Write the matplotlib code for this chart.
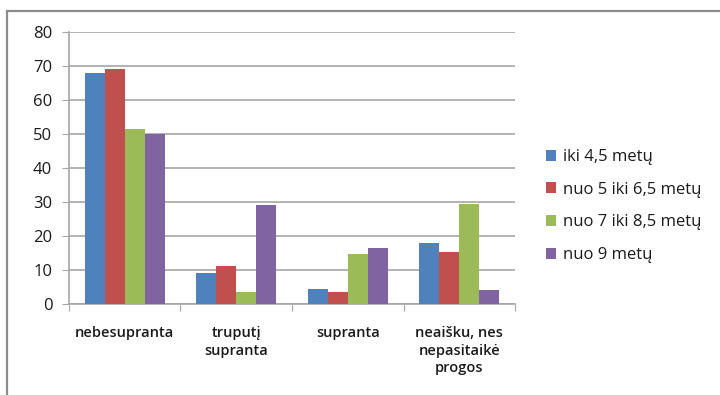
import matplotlib.pyplot as plt
import numpy as np
from matplotlib.patches import Rectangle

# Data
categories = ['nebesupranta', 'truputį\nsupranta', 'supranta', 'neaišku, nes\nnepasitaikė\nprogos']
series_names = ['iki 4,5 metų', 'nuo 5 iki 6,5 metų', 'nuo 7 iki 8,5 metų', 'nuo 9 metų']
iki_4_5 = [68, 9, 4.4, 17.8]
nuo_5_iki_6_5 = [69, 11.3, 3.5, 15.2]
nuo_7_iki_8_5 = [51.6, 3.5, 14.7, 29.4]
nuo_9 = [50, 29.1, 16.6, 4.0]
values = [iki_4_5, nuo_5_iki_6_5, nuo_7_iki_8_5, nuo_9]
colors = ['#4F81BD', '#C0504D', '#9BBB59', '#8064A2']

plt.rcParams['font.family'] = ['Open Sans', 'DejaVu Sans']

fig = plt.figure(figsize=(7.2, 3.95), dpi=100)
ax = fig.add_axes([0.0958, 0.2304, 0.6195, 0.6886])

# outer chart frame
fig.patches.append(Rectangle((7 / 720, -0.2), 1.2, 1.2 - 11 / 395,
                             transform=fig.transFigure, fill=False,
                             edgecolor='#8c8c8c', linewidth=1.6))

x = np.arange(len(categories))
bar_w = 0.18
for i, (vals, name) in enumerate(zip(values, series_names)):
    ax.bar(x + (i - 1.5) * bar_w, vals, bar_w, color=colors[i], label=name, zorder=3)

ax.set_xlim(-0.5, len(categories) - 0.5)
ax.set_ylim(0, 80)
ax.set_yticks(range(0, 81, 10))
ax.grid(axis='y', color='#a6a6a6', linewidth=1.2, zorder=0)

# category boundaries as x ticks
ax.set_xticks(np.arange(-0.5, len(categories), 1.0))
ax.set_xticklabels([])
ax.set_xticks(x, minor=True)
ax.set_xticklabels(categories, minor=True, fontsize=10.5, fontweight='semibold',
                   color='#1a1a1a', linespacing=1.3)
ax.tick_params(axis='x', which='minor', length=0, pad=16)
ax.tick_params(axis='x', which='major', length=5, color='#a6a6a6')
ax.tick_params(axis='y', length=5, color='#a6a6a6', labelsize=12, pad=7,
               labelcolor='#1a1a1a')

for side in ['top', 'right']:
    ax.spines[side].set_visible(False)
for side in ['left', 'bottom']:
    ax.spines[side].set_color('#a6a6a6')
    ax.spines[side].set_linewidth(1.2)

ax.legend(loc='center left', bbox_to_anchor=(1.035, 0.36), frameon=False,
          fontsize=12, handlelength=0.65, handleheight=0.65, handletextpad=0.4,
          labelspacing=1.0, labelcolor='#1a1a1a')

fig.savefig('out.png', dpi=100)
